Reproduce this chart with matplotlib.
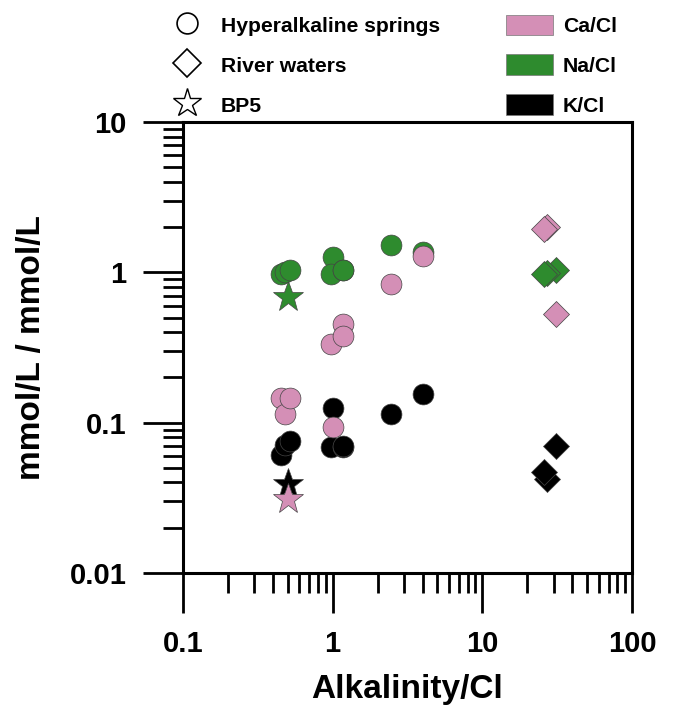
import numpy as np
import matplotlib
matplotlib.use('Agg')
from matplotlib import pyplot as plt
from matplotlib.lines import Line2D
from matplotlib.patches import Patch
from matplotlib.ticker import LogLocator, NullFormatter

plt.rcParams['font.family'] = ['Liberation Sans', 'DejaVu Sans']
plt.rcParams['font.weight'] = 'bold'

# hyperalkaline springs
spring_x = [0.45, 0.48, 0.52, 1.0, 0.98, 1.17, 1.18, 2.45, 4.0]
spring_na = [0.97, 1.0, 1.03, 1.26, 0.98, 1.03, 1.04, 1.51, 1.36]
spring_ca = [0.145, 0.115, 0.145, 0.093, 0.336, 0.45, 0.38, 0.83, 1.28]
spring_k = [0.061, 0.071, 0.075, 0.126, 0.069, 0.069, 0.070, 0.115, 0.156]

# river waters
river_x = [26.0, 27.0, 31.0]
river_na = [0.97, 0.985, 1.03]
river_ca = [1.94, 2.0, 0.53]
river_k = [0.047, 0.042, 0.070]

# BP5
bp5_x = [0.5]
bp5_na = [0.69]
bp5_ca = [0.031]
bp5_k = [0.039]

pink = '#d48fb6'
green = '#2e8b2e'
black = '#000000'
edge = '#444444'

fig = plt.figure(figsize=(6.73, 7.11), dpi=100)
ax = fig.add_axes([183/673, 1-573/711, 449/673, 451/711])

# K first, then Na, then Ca on top
for vals, col in [(spring_k, black), (spring_na, green), (spring_ca, pink)]:
    ax.plot(spring_x, vals, 'o', ms=15, mfc=col, mec=edge, mew=0.5, ls='none')
for vals, col in [(river_k, black), (river_na, green), (river_ca, pink)]:
    ax.plot(river_x[::-1], vals[::-1], 'D', ms=13.5, mfc=col, mec=edge, mew=0.5, ls='none')
for vals, col in [(bp5_k, black), (bp5_na, green), (bp5_ca, pink)]:
    ax.plot(bp5_x, vals, '*', ms=23, mfc=col, mec=edge, mew=0.5, ls='none')

ax.set_xscale('log')
ax.set_yscale('log')
ax.set_xlim(0.1, 100)
ax.set_ylim(0.01, 10)
ax.set_xticks([0.1, 1, 10, 100], ['0.1', '1', '10', '100'])
ax.set_yticks([0.01, 0.1, 1, 10], ['0.01', '0.1', '1', '10'])
ax.xaxis.set_minor_locator(LogLocator(base=10, subs=np.arange(2, 10)))
ax.yaxis.set_minor_locator(LogLocator(base=10, subs=np.arange(2, 10)))
ax.xaxis.set_minor_formatter(NullFormatter())
ax.yaxis.set_minor_formatter(NullFormatter())
ax.tick_params(which='major', direction='out', length=28.8, width=2, labelsize=21, pad=12)
ax.tick_params(which='minor', direction='out', length=14.4, width=2)
for s in ax.spines.values():
    s.set_linewidth(2.2)

ax.set_xlabel('Alkalinity/Cl', fontsize=24, fontweight='bold', labelpad=12)
ax.set_ylabel('mmol/L / mmol/L', fontsize=24, fontweight='bold', labelpad=16)

# legends
shape_handles = [
    Line2D([], [], marker='o', ls='none', ms=15, mfc='white', mec='black', mew=1.2),
    Line2D([], [], marker='D', ms=14, ls='none', mfc='white', mec='black', mew=1.2),
    Line2D([], [], marker='*', ms=21, ls='none', mfc='white', mec='black', mew=1.0),
]
shape_labels = ['Hyperalkaline springs', 'River waters', 'BP5']
color_handles = [Patch(fc=pink, ec='#777777', lw=0.5),
                 Patch(fc=green, ec='#777777', lw=0.5),
                 Patch(fc=black, ec='#777777', lw=0.5)]
color_labels = ['Ca/Cl', 'Na/Cl', 'K/Cl']

leg_kw = dict(frameon=False, borderpad=0, handlelength=2.26,
              handleheight=1.1, handletextpad=0.45, labelspacing=0.88,
              prop={'weight': 'bold', 'size': 15.2}, loc='upper left')
fig.legend(shape_handles, shape_labels, bbox_to_anchor=(153/673, 1-4/711), **leg_kw)
fig.legend(color_handles, color_labels, bbox_to_anchor=(495/673, 1-4/711), **leg_kw)

plt.savefig('out.png', dpi=100)
